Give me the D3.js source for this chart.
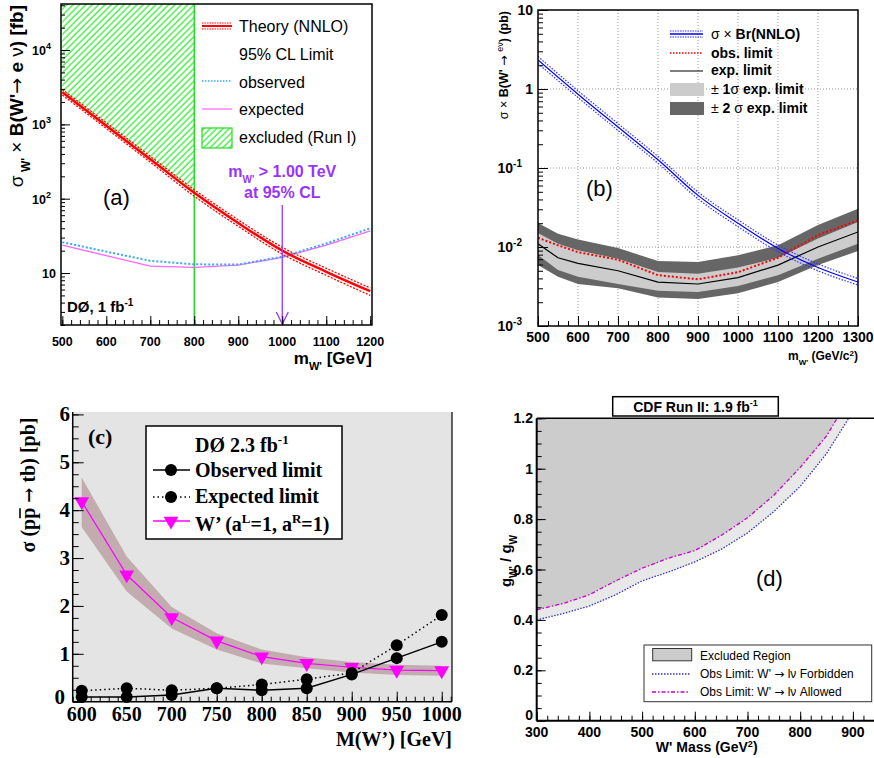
<!DOCTYPE html>
<html>
<head>
<meta charset="utf-8">
<script src="https://cdn.jsdelivr.net/npm/d3@7"></script>
<style>
body { margin: 0; background: #fff; }
svg { display: block; }
.sans { font-family: "Liberation Sans", Arial, sans-serif; }
.serif { font-family: "Liberation Serif", "Times New Roman", serif; }
.ax .domain { display: none; }
.arr { font-family: "DejaVu Sans", sans-serif; font-weight: normal; }
.arrs { font-family: "DejaVu Serif", serif; }
</style>
</head>
<body>
<script>
// ---- (a) D0 W' -> e nu, 1 fb-1 ----
var massA = [500, 600, 700, 800, 900, 1000, 1100, 1200];
var theoryA = [2700, 960, 340, 120, 47, 20, 10.4, 5.7];
var theoryHiA = [2950, 1050, 372, 132, 52, 22.2, 11.6, 6.3];
var theoryLoA = [2480, 880, 310, 108, 42.5, 18, 9.3, 5.0];
var obsA = [26, 19.4, 14.6, 13.1, 13.0, 16.6, 25, 40];
var expA = [23.8, 17.1, 12.4, 11.9, 12.8, 16.3, 23.8, 37];
var runIMaxA = 800;
var limitA = 1000;

// ---- (b) CDF W' -> e nu ----
var massTheoryB = [500, 600, 700, 800, 900, 1000, 1100, 1200, 1300];
var theoryB = [2.33, 0.86, 0.33, 0.127, 0.045, 0.020, 0.0096, 0.0055, 0.0036];
var theoryHiB = [2.58, 0.95, 0.365, 0.140, 0.0497, 0.0221, 0.0106, 0.0061, 0.0040];
var theoryLoB = [2.10, 0.78, 0.298, 0.115, 0.0407, 0.0181, 0.0087, 0.0050, 0.0033];
var massB = [500, 550, 600, 700, 800, 900, 1000, 1100, 1200, 1300];
var twoUpB = [0.0201, 0.0147, 0.0124, 0.0097, 0.00665, 0.00646, 0.00785, 0.0105, 0.019, 0.0306];
var oneUpB = [0.0150, 0.0110, 0.0091, 0.0071, 0.00483, 0.00459, 0.0055, 0.0073, 0.0128, 0.0207];
var expB = [0.0110, 0.0073, 0.0062, 0.0050, 0.0036, 0.0034, 0.0041, 0.0059, 0.0100, 0.0155];
var oneDnB = [0.0079, 0.0051, 0.0042, 0.0034, 0.0028, 0.0027, 0.0032, 0.0044, 0.0071, 0.0110];
var twoDnB = [0.0059, 0.0042, 0.0034, 0.0030, 0.0023, 0.0022, 0.0026, 0.0036, 0.0059, 0.0089];
var obsB = [0.0131, 0.0105, 0.0086, 0.0069, 0.0044, 0.0039, 0.0048, 0.0073, 0.0141, 0.0218];

// ---- (c) D0 W' -> tb, 2.3 fb-1 ----
var massC = [600, 650, 700, 750, 800, 850, 900, 950, 1000];
var obsC = [0.10, 0.10, 0.14, 0.28, 0.24, 0.28, 0.57, 0.91, 1.25];
var expC = [0.23, 0.28, 0.24, 0.28, 0.36, 0.47, 0.60, 1.18, 1.81];
var wpC = [4.18, 2.65, 1.76, 1.27, 0.94, 0.80, 0.72, 0.66, 0.65];
var wpHiC = [4.68, 3.03, 1.98, 1.43, 1.09, 0.93, 0.83, 0.77, 0.75];
var wpLoC = [3.65, 2.30, 1.53, 1.09, 0.80, 0.70, 0.61, 0.56, 0.54];

// ---- (d) CDF coupling limit, 1.9 fb-1 ----
var massForbD = [300, 350, 400, 450, 500, 550, 600, 650, 700, 750, 800, 850, 892];
var forbD = [0.40, 0.425, 0.455, 0.50, 0.555, 0.59, 0.63, 0.68, 0.745, 0.83, 0.93, 1.06, 1.2];
var massAllowD = [300, 350, 400, 450, 500, 550, 600, 650, 700, 750, 800, 850, 870];
var allowD = [0.44, 0.465, 0.50, 0.555, 0.605, 0.645, 0.675, 0.735, 0.805, 0.895, 1.005, 1.13, 1.2];

var svg = d3.select("body").append("svg").attr("width", 874).attr("height", 758);
var defs = svg.append("defs");

function zip(xs, ys) { return xs.map(function(x, i) { return [x, ys[i]]; }); }
function addClip(id, x0, y0, x1, y1) {
    defs.append("clipPath").attr("id", id).append("rect")
        .attr("x", x0).attr("y", y0).attr("width", x1 - x0).attr("height", y1 - y0);
}
// inward ticks via d3 axes, labels drawn separately
function ticks(g, orient, scale, pos, vals, len) {
    var a = orient == "left" ? d3.axisLeft(scale) : d3.axisBottom(scale);
    a.tickValues(vals).tickSize(-len).tickFormat("");
    g.append("g").attr("class", "ax")
     .attr("transform", orient == "left" ? "translate(" + pos + ",0)" : "translate(0," + pos + ")")
     .call(a);
}
function range(a, b, s) { return d3.range(a, b + s / 2, s); }

// hatch for Run I exclusion
var pat = defs.append("pattern").attr("id", "hatch").attr("patternUnits", "userSpaceOnUse")
    .attr("width", 4.5).attr("height", 4.5).attr("patternTransform", "rotate(45)");
pat.append("rect").attr("width", 4.5).attr("height", 4.5).attr("fill", "#fff");
pat.append("line").attr("x1", 1).attr("y1", 0).attr("x2", 1).attr("y2", 4.5)
   .attr("stroke", "#22ee22").attr("stroke-width", 1.2);

/* ================= panel (a) ================= */
var ga = svg.append("g").attr("class", "sans");
var xa = d3.scaleLinear().domain([497, 1204]).range([61, 372]);
var ya = d3.scaleLog().domain([2, 41600]).range([325, 4]);
addClip("clipA", 61, 4, 372, 325);
var pa = ga.append("g").attr("clip-path", "url(#clipA)");
var lineA = d3.line().x(function(d) { return xa(d[0]); }).y(function(d) { return ya(d[1]); });
var smoothA = d3.line().x(function(d) { return xa(d[0]); }).y(function(d) { return ya(d[1]); }).curve(d3.curveMonotoneX);

pa.append("path")
  .datum(zip(massA, theoryA).filter(function(d) { return d[0] <= runIMaxA; }))
  .attr("d", d3.area().x(function(d) { return xa(d[0]); }).y0(4).y1(function(d) { return ya(d[1]); }).curve(d3.curveMonotoneX))
  .attr("fill", "url(#hatch)");
pa.append("line").attr("x1", xa(runIMaxA)).attr("x2", xa(runIMaxA)).attr("y1", 4).attr("y2", 325)
  .attr("stroke", "#22dd22").attr("stroke-width", 1.5);

pa.append("path").datum(zip(massA, expA)).attr("d", lineA)
  .attr("fill", "none").attr("stroke", "#ff66ff").attr("stroke-width", 1.3);
pa.append("path").datum(zip(massA, obsA)).attr("d", lineA)
  .attr("fill", "none").attr("stroke", "#33aaff").attr("stroke-width", 2).attr("stroke-dasharray", "2,2");
[theoryHiA, theoryLoA].forEach(function(s) {
    pa.append("path").datum(zip(massA, s)).attr("d", smoothA)
      .attr("fill", "none").attr("stroke", "#ff0000").attr("stroke-width", 1.3).attr("stroke-dasharray", "2,1.5");
});
pa.append("path").datum(zip(massA, theoryA)).attr("d", smoothA)
  .attr("fill", "none").attr("stroke", "#ff0000").attr("stroke-width", 2.5);

// limit arrow
var purple = "#9933ff";
ga.append("line").attr("x1", xa(limitA)).attr("x2", xa(limitA)).attr("y1", 205).attr("y2", 324)
  .attr("stroke", purple).attr("stroke-width", 1.3);
ga.append("path").attr("d", "M" + (xa(limitA) - 6) + ",312L" + xa(limitA) + ",324L" + (xa(limitA) + 6) + ",312")
  .attr("fill", "none").attr("stroke", purple).attr("stroke-width", 1.3);
var ta = ga.append("text").attr("x", xa(limitA)).attr("y", 177).attr("text-anchor", "middle")
  .attr("font-weight", "bold").attr("font-size", 16).attr("fill", purple);
ta.append("tspan").text("m");
ta.append("tspan").attr("baseline-shift", "sub").attr("font-size", 10).text("W'");
ta.append("tspan").text(" > 1.00 TeV");
ga.append("text").attr("x", xa(limitA)).attr("y", 198).attr("text-anchor", "middle")
  .attr("font-weight", "bold").attr("font-size", 16).attr("fill", purple).text("at 95% CL");

ga.append("rect").attr("x", 61).attr("y", 4).attr("width", 311).attr("height", 321)
  .attr("fill", "none").attr("stroke", "#000").attr("stroke-width", 1.5);
ticks(ga, "left", ya, 61, ya.ticks().filter(function(v) { return v >= 2; }), 4);
ticks(ga, "left", ya, 61, [10, 100, 1000, 10000], 9);
ticks(ga, "bottom", xa, 325, range(500, 1200, 20), 5);
ticks(ga, "bottom", xa, 325, range(500, 1200, 100), 9);

ga.selectAll("text.xla").data(range(500, 1200, 100)).enter().append("text")
  .attr("x", function(d) { return xa(d); }).attr("y", 346).attr("text-anchor", "middle")
  .attr("font-size", 12.5).attr("font-weight", "bold").text(function(d) { return d; });
[[10, "10", ""], [100, "10", "2"], [1000, "10", "3"], [10000, "10", "4"]].forEach(function(d) {
    var t = ga.append("text").attr("x", d[2] ? 51 : 56).attr("y", ya(d[0]) + 5).attr("text-anchor", "end")
      .attr("font-size", 12.5).attr("font-weight", "bold");
    t.append("tspan").text(d[1]);
    if (d[2]) t.append("tspan").attr("dy", -6).attr("font-size", 9).text(d[2]);
});

var xta = ga.append("text").attr("x", 372).attr("y", 364).attr("text-anchor", "end")
  .attr("font-size", 17).attr("font-weight", "bold");
xta.append("tspan").text("m");
xta.append("tspan").attr("baseline-shift", "sub").attr("font-size", 11).text("W'");
xta.append("tspan").text("  [GeV]");

var yta = ga.append("text").attr("transform", "translate(23,5) rotate(-90)").attr("text-anchor", "end")
  .attr("font-size", 19).attr("font-weight", "bold");
yta.append("tspan").attr("font-weight", "normal").text("σ");
yta.append("tspan").attr("baseline-shift", "sub").attr("font-size", 12).text(" W'");
yta.append("tspan").attr("font-weight", "normal").text(" × ");
yta.append("tspan").text("B(W'");
yta.append("tspan").attr("class", "arr").text("→");
yta.append("tspan").text(" e ");
yta.append("tspan").attr("font-weight", "normal").text("ν");
yta.append("tspan").text(")  [fb]");

ga.append("text").attr("x", 103).attr("y", 205).attr("font-size", 22).text("(a)");
var dza = ga.append("text").attr("x", 67).attr("y", 312).attr("font-size", 15).attr("font-weight", "bold");
dza.append("tspan").text("DØ, 1 fb");
dza.append("tspan").attr("dy", -6).attr("font-size", 10).text("-1");

// legend (a)
ga.append("line").attr("x1", 202).attr("x2", 232).attr("y1", 26).attr("y2", 26).attr("stroke", "#f00").attr("stroke-width", 2);
[23, 29].forEach(function(y) {
    ga.append("line").attr("x1", 202).attr("x2", 232).attr("y1", y).attr("y2", y)
      .attr("stroke", "#f00").attr("stroke-width", 1).attr("stroke-dasharray", "1.5,1");
});
ga.append("line").attr("x1", 202).attr("x2", 232).attr("y1", 81).attr("y2", 81)
  .attr("stroke", "#33aaff").attr("stroke-width", 1.5).attr("stroke-dasharray", "1.5,1.5");
ga.append("line").attr("x1", 202).attr("x2", 232).attr("y1", 109).attr("y2", 109)
  .attr("stroke", "#ff66ff").attr("stroke-width", 1.2);
ga.append("rect").attr("x", 202).attr("y", 128).attr("width", 30).attr("height", 20)
  .attr("fill", "url(#hatch)").attr("stroke", "#22dd22").attr("stroke-width", 1.2);
[["Theory (NNLO)", 32], ["95% CL Limit", 60], ["observed", 88], ["expected", 115], ["excluded (Run I)", 143]].forEach(function(d) {
    ga.append("text").attr("x", 239).attr("y", d[1]).attr("font-size", 16).text(d[0]);
});

/* ================= panel (b) ================= */
var gb = svg.append("g").attr("class", "sans");
var xb = d3.scaleLinear().domain([500, 1300]).range([538, 858]);
var yb = d3.scaleLog().domain([1e-3, 10]).range([326, 10]);
addClip("clipB", 538, 10, 858, 326);
var pb = gb.append("g").attr("clip-path", "url(#clipB)");

range(600, 1200, 100).forEach(function(v) {
    pb.append("line").attr("x1", xb(v)).attr("x2", xb(v)).attr("y1", 10).attr("y2", 326)
      .attr("stroke", "#999").attr("stroke-dasharray", "1,2");
});
[0.01, 0.1, 1].forEach(function(v) {
    pb.append("line").attr("x1", 538).attr("x2", 858).attr("y1", yb(v)).attr("y2", yb(v))
      .attr("stroke", "#999").attr("stroke-dasharray", "1,2");
});

function bandB(lo, hi, col) {
    pb.append("path").datum(massB.map(function(m, i) { return [m, lo[i], hi[i]]; }))
      .attr("d", d3.area().x(function(d) { return xb(d[0]); })
            .y0(function(d) { return yb(d[1]); }).y1(function(d) { return yb(d[2]); }))
      .attr("fill", col);
}
bandB(twoDnB, twoUpB, "#666666");
bandB(oneDnB, oneUpB, "#cccccc");
var lineB = d3.line().x(function(d) { return xb(d[0]); }).y(function(d) { return yb(d[1]); });
var smoothB = d3.line().x(function(d) { return xb(d[0]); }).y(function(d) { return yb(d[1]); }).curve(d3.curveMonotoneX);
pb.append("path").datum(zip(massB, expB)).attr("d", lineB).attr("fill", "none").attr("stroke", "#000").attr("stroke-width", 1.2);
pb.append("path").datum(zip(massB, obsB)).attr("d", lineB).attr("fill", "none")
  .attr("stroke", "#ff0000").attr("stroke-width", 2).attr("stroke-dasharray", "2,2");
[theoryHiB, theoryLoB].forEach(function(s) {
    pb.append("path").datum(zip(massTheoryB, s)).attr("d", smoothB).attr("fill", "none")
      .attr("stroke", "#3333ff").attr("stroke-width", 1.2).attr("stroke-dasharray", "1.5,1.5");
});
pb.append("path").datum(zip(massTheoryB, theoryB)).attr("d", smoothB).attr("fill", "none")
  .attr("stroke", "#0000ff").attr("stroke-width", 1.2);

gb.append("rect").attr("x", 538).attr("y", 10).attr("width", 320).attr("height", 316)
  .attr("fill", "none").attr("stroke", "#000").attr("stroke-width", 1.5);
ticks(gb, "left", yb, 538, yb.ticks(), 5);
ticks(gb, "left", yb, 538, [0.001, 0.01, 0.1, 1, 10], 10);
ticks(gb, "bottom", xb, 326, range(500, 1300, 25), 5);
ticks(gb, "bottom", xb, 326, range(500, 1300, 100), 10);

gb.selectAll("text.xlb").data(range(500, 1300, 100)).enter().append("text")
  .attr("x", function(d) { return xb(d); }).attr("y", 342).attr("text-anchor", "middle")
  .attr("font-size", 14).attr("font-weight", "bold").text(function(d) { return d; });
[[10, "10", ""], [1, "1", ""], [0.1, "10", "-1"], [0.01, "10", "-2"], [0.001, "10", "-3"]].forEach(function(d) {
    var t = gb.append("text").attr("x", d[2] ? 522 : 533).attr("y", yb(d[0]) + 5).attr("text-anchor", "end")
      .attr("font-size", 14).attr("font-weight", "bold");
    t.append("tspan").text(d[1]);
    if (d[2]) t.append("tspan").attr("dy", -6).attr("font-size", 10).text(d[2]);
});

var xtb = gb.append("text").attr("x", 858).attr("y", 360).attr("text-anchor", "end")
  .attr("font-size", 12).attr("font-weight", "bold");
xtb.append("tspan").text("m");
xtb.append("tspan").attr("baseline-shift", "sub").attr("font-size", 8).text("W'");
xtb.append("tspan").text(" (GeV/c");
xtb.append("tspan").attr("baseline-shift", "super").attr("font-size", 8).text("2");
xtb.append("tspan").text(")");

var ytb = gb.append("text").attr("transform", "translate(508,11) rotate(-90)").attr("text-anchor", "end")
  .attr("font-size", 12.5).attr("font-weight", "bold");
ytb.append("tspan").attr("font-weight", "normal").text("σ × ");
ytb.append("tspan").text("B(W' ");
ytb.append("tspan").attr("class", "arr").text("→");
ytb.append("tspan").text(" ");
ytb.append("tspan").attr("baseline-shift", "super").attr("font-size", 9).attr("font-weight", "normal").text("eν");
ytb.append("tspan").text(") (pb)");

gb.append("text").attr("x", 586).attr("y", 196).attr("font-size", 22).text("(b)");

// legend (b)
gb.append("line").attr("x1", 670).attr("x2", 703).attr("y1", 34).attr("y2", 34).attr("stroke", "#00f").attr("stroke-width", 1.3);
[31, 37].forEach(function(y) {
    gb.append("line").attr("x1", 670).attr("x2", 703).attr("y1", y).attr("y2", y)
      .attr("stroke", "#3333ff").attr("stroke-width", 1).attr("stroke-dasharray", "1.5,1");
});
gb.append("line").attr("x1", 670).attr("x2", 703).attr("y1", 53).attr("y2", 53)
  .attr("stroke", "#f00").attr("stroke-width", 1.5).attr("stroke-dasharray", "1.5,1.5");
gb.append("line").attr("x1", 670).attr("x2", 703).attr("y1", 71).attr("y2", 71).attr("stroke", "#000").attr("stroke-width", 1.2);
gb.append("rect").attr("x", 670).attr("y", 83).attr("width", 34).attr("height", 13).attr("fill", "#cccccc");
gb.append("rect").attr("x", 670).attr("y", 102).attr("width", 34).attr("height", 13).attr("fill", "#666666");
var lb1 = gb.append("text").attr("x", 711).attr("y", 39).attr("font-size", 14).attr("font-weight", "bold");
lb1.append("tspan").attr("font-weight", "normal").text("σ × ");
lb1.append("tspan").text("Br(NNLO)");
gb.append("text").attr("x", 711).attr("y", 58).attr("font-size", 14).attr("font-weight", "bold").text("obs. limit");
gb.append("text").attr("x", 711).attr("y", 75).attr("font-size", 14).attr("font-weight", "bold").text("exp. limit");
var lb4 = gb.append("text").attr("x", 711).attr("y", 94).attr("font-size", 14).attr("font-weight", "bold");
lb4.append("tspan").attr("font-weight", "normal").text("± ");
lb4.append("tspan").text("1");
lb4.append("tspan").attr("font-weight", "normal").text("σ");
lb4.append("tspan").text(" exp. limit");
var lb5 = gb.append("text").attr("x", 711).attr("y", 113).attr("font-size", 14).attr("font-weight", "bold");
lb5.append("tspan").attr("font-weight", "normal").text("± ");
lb5.append("tspan").text("2 ");
lb5.append("tspan").attr("font-weight", "normal").text("σ");
lb5.append("tspan").text(" exp. limit");

/* ================= panel (c) ================= */
var gc = svg.append("g").attr("class", "serif");
var xc = d3.scaleLinear().domain([590, 1011.4]).range([72.7, 452]);
var yc = d3.scaleLinear().domain([0, 6.05]).range([701.7, 412]);
gc.append("rect").attr("x", 72.7).attr("y", 412).attr("width", 452 - 72.7).attr("height", 701.7 - 412).attr("fill", "#e4e4e4");
addClip("clipC", 72.7, 412, 452, 701.7);
var pc = gc.append("g").attr("clip-path", "url(#clipC)");
pc.append("path").datum(massC.map(function(m, i) { return [m, wpLoC[i], wpHiC[i]]; }))
  .attr("d", d3.area().x(function(d) { return xc(d[0]); }).y0(function(d) { return yc(d[1]); }).y1(function(d) { return yc(d[2]); }))
  .attr("fill", "#c3acb0");
var lineC = d3.line().x(function(d) { return xc(d[0]); }).y(function(d) { return yc(d[1]); });
pc.append("path").datum(zip(massC, wpC)).attr("d", lineC).attr("fill", "none").attr("stroke", "#ff00ff").attr("stroke-width", 1.2);
pc.append("path").datum(zip(massC, expC)).attr("d", lineC).attr("fill", "none").attr("stroke", "#000")
  .attr("stroke-width", 1.5).attr("stroke-dasharray", "1.5,3");
pc.append("path").datum(zip(massC, obsC)).attr("d", lineC).attr("fill", "none").attr("stroke", "#000").attr("stroke-width", 1.5);
var tri = d3.symbol().type(d3.symbolTriangle).size(95);
gc.selectAll("path.tri").data(zip(massC, wpC)).enter().append("path")
  .attr("d", tri).attr("fill", "#ff00ff")
  .attr("transform", function(d) { return "translate(" + xc(d[0]) + "," + yc(d[1]) + ") rotate(180)"; });
gc.selectAll("circle.exp").data(zip(massC, expC)).enter().append("circle")
  .attr("cx", function(d) { return xc(d[0]); }).attr("cy", function(d) { return yc(d[1]); }).attr("r", 6).attr("fill", "#000");
gc.selectAll("circle.obs").data(zip(massC, obsC)).enter().append("circle")
  .attr("cx", function(d) { return xc(d[0]); }).attr("cy", function(d) { return yc(d[1]); }).attr("r", 6).attr("fill", "#000");

gc.append("line").attr("x1", 452).attr("x2", 452).attr("y1", 412).attr("y2", 701.7).attr("stroke", "#000").attr("stroke-width", 1.2);
gc.append("line").attr("x1", 72.7).attr("x2", 72.7).attr("y1", 412).attr("y2", 701.7).attr("stroke", "#000").attr("stroke-width", 1.5);
gc.append("line").attr("x1", 72.7).attr("x2", 452).attr("y1", 701.7).attr("y2", 701.7).attr("stroke", "#000").attr("stroke-width", 1.5);
ticks(gc, "left", yc, 72.7, range(0, 6, 0.25), 6);
ticks(gc, "left", yc, 72.7, range(0, 6, 1), 11);
ticks(gc, "bottom", xc, 701.7, range(590, 1010, 10), 5);
ticks(gc, "bottom", xc, 701.7, range(600, 1000, 50), 10);

gc.selectAll("text.xlc").data(range(600, 1000, 50)).enter().append("text")
  .attr("x", function(d) { return xc(d); }).attr("y", 721).attr("text-anchor", "middle")
  .attr("font-size", 20).attr("font-weight", "bold").text(function(d) { return d; });
gc.selectAll("text.ylc").data(range(0, 6, 1)).enter().append("text")
  .attr("x", function(d) { return d == 0 ? 65 : 70; })
  .attr("y", function(d) { return d == 0 ? yc(d) + 2 : yc(d) + 7; }).attr("text-anchor", "end")
  .attr("font-size", 21).attr("font-weight", "bold").text(function(d) { return d; });

gc.append("text").attr("x", 452).attr("y", 746).attr("text-anchor", "end")
  .attr("font-size", 20).attr("font-weight", "bold").text("M(W’) [GeV]");
// y title, with the anti-proton bar drawn over the second p
var ytcG = gc.append("g").attr("transform", "translate(35,485) rotate(-90)");
var ytc = ytcG.append("text").attr("text-anchor", "middle").attr("font-size", 20).attr("font-weight", "bold");
ytc.append("tspan").text("σ (pp ");
ytc.append("tspan").attr("class", "arrs").attr("font-size", 18).text("→");
ytc.append("tspan").text(" tb) [pb]");
var pbarS = ytc.node().getStartPositionOfChar(4), pbarE = ytc.node().getEndPositionOfChar(4);
ytcG.append("line").attr("x1", pbarS.x + 0.5).attr("x2", pbarE.x - 0.5).attr("y1", -15).attr("y2", -15)
  .attr("stroke", "#000").attr("stroke-width", 1.6);

gc.append("text").attr("x", 88).attr("y", 444).attr("font-size", 22).attr("font-weight", "bold").text("(c)");

// legend (c)
gc.append("rect").attr("x", 146).attr("y", 426).attr("width", 196).attr("height", 113)
  .attr("fill", "#fff").attr("stroke", "#000").attr("stroke-width", 1.5);
var lc1 = gc.append("text").attr("x", 195).attr("y", 452).attr("font-size", 20).attr("font-weight", "bold");
lc1.append("tspan").text("DØ 2.3 fb");
lc1.append("tspan").attr("dy", -8).attr("font-size", 13).text("-1");
gc.append("line").attr("x1", 153).attr("x2", 190).attr("y1", 470).attr("y2", 470).attr("stroke", "#000").attr("stroke-width", 1.5);
gc.append("circle").attr("cx", 171).attr("cy", 470).attr("r", 6).attr("fill", "#000");
gc.append("text").attr("x", 195).attr("y", 477).attr("font-size", 20).attr("font-weight", "bold").text("Observed limit");
gc.append("line").attr("x1", 153).attr("x2", 190).attr("y1", 497).attr("y2", 497).attr("stroke", "#000")
  .attr("stroke-width", 1.5).attr("stroke-dasharray", "1.5,3");
gc.append("circle").attr("cx", 171).attr("cy", 497).attr("r", 6).attr("fill", "#000");
gc.append("text").attr("x", 195).attr("y", 503).attr("font-size", 20).attr("font-weight", "bold").text("Expected limit");
gc.append("line").attr("x1", 153).attr("x2", 190).attr("y1", 521).attr("y2", 521).attr("stroke", "#ff00ff").attr("stroke-width", 1.5);
gc.append("path").attr("d", tri).attr("fill", "#ff00ff").attr("transform", "translate(171,521) rotate(180)");
var lc4 = gc.append("text").attr("x", 195).attr("y", 531).attr("font-size", 20).attr("font-weight", "bold");
lc4.append("tspan").text("W’ (a");
lc4.append("tspan").attr("dy", -8).attr("font-size", 13).text("L");
lc4.append("tspan").attr("dy", 8).text("=1, a");
lc4.append("tspan").attr("dy", -8).attr("font-size", 13).text("R");
lc4.append("tspan").attr("dy", 8).text("=1)");

/* ================= panel (d) ================= */
var gd = svg.append("g").attr("class", "sans");
var xd = d3.scaleLinear().domain([300, 950]).range([536.7, 536.7 + 650 * 0.527]);
var yd = d3.scaleLinear().domain([0, 1.2]).range([720.7, 418.3]);
addClip("clipD", 536.7, 418.3, 874, 720.7);
var pd = gd.append("g").attr("clip-path", "url(#clipD)");
var areaTop = d3.area().x(function(d) { return xd(d[0]); }).y0(yd(1.2)).y1(function(d) { return yd(d[1]); });
pd.append("path").datum(zip(massForbD, forbD)).attr("d", areaTop).attr("fill", "#e8e8e8");
pd.append("path").datum(zip(massAllowD, allowD)).attr("d", areaTop).attr("fill", "#cccccc");
var lineD = d3.line().x(function(d) { return xd(d[0]); }).y(function(d) { return yd(d[1]); });
pd.append("path").datum(zip(massForbD, forbD)).attr("d", lineD).attr("fill", "none")
  .attr("stroke", "#3333cc").attr("stroke-width", 1.3).attr("stroke-dasharray", "1.5,1.5");
pd.append("path").datum(zip(massAllowD, allowD)).attr("d", lineD).attr("fill", "none")
  .attr("stroke", "#cc00cc").attr("stroke-width", 1.3).attr("stroke-dasharray", "4,2,1.5,2");

gd.append("line").attr("x1", 536.7).attr("x2", 874).attr("y1", 418.3).attr("y2", 418.3).attr("stroke", "#000").attr("stroke-width", 1.5);
gd.append("line").attr("x1", 536.7).attr("x2", 536.7).attr("y1", 418.3).attr("y2", 720.7).attr("stroke", "#000").attr("stroke-width", 2);
gd.append("line").attr("x1", 536.7).attr("x2", 874).attr("y1", 720.7).attr("y2", 720.7).attr("stroke", "#000").attr("stroke-width", 2);
ticks(gd, "left", yd, 536.7, range(0, 1.2, 0.05), 5);
ticks(gd, "left", yd, 536.7, range(0, 1.2, 0.2), 9);
ticks(gd, "bottom", xd, 720.7, range(300, 940, 20), 5);
ticks(gd, "bottom", xd, 720.7, range(300, 900, 100), 9);

gd.selectAll("text.xld").data(range(300, 900, 100)).enter().append("text")
  .attr("x", function(d) { return xd(d); }).attr("y", 737).attr("text-anchor", "middle")
  .attr("font-size", 14).attr("font-weight", "bold").text(function(d) { return d; });
gd.selectAll("text.yld").data(range(0, 1.2, 0.2)).enter().append("text")
  .attr("x", 533).attr("y", function(d) { return d < 0.1 ? yd(d) - 1 : yd(d) + 5; }).attr("text-anchor", "end")
  .attr("font-size", 14).attr("font-weight", "bold").text(function(d) { return d3.format("~g")(+d.toFixed(1)); });

var xtd = gd.append("text").attr("x", 706.7).attr("y", 752).attr("text-anchor", "middle")
  .attr("font-size", 14).attr("font-weight", "bold");
xtd.append("tspan").text("W' Mass (GeV");
xtd.append("tspan").attr("baseline-shift", "super").attr("font-size", 9).text("2");
xtd.append("tspan").text(")");
var ytd = gd.append("text").attr("transform", "translate(511,561) rotate(-90)").attr("text-anchor", "middle")
  .attr("font-size", 15).attr("font-weight", "bold");
ytd.append("tspan").text("g");
ytd.append("tspan").attr("baseline-shift", "sub").attr("font-size", 10).text("W'");
ytd.append("tspan").text(" / g");
ytd.append("tspan").attr("baseline-shift", "sub").attr("font-size", 10).text("W");

gd.append("rect").attr("x", 612.7).attr("y", 396.7).attr("width", 165.6).attr("height", 19.3)
  .attr("fill", "#fff").attr("stroke", "#000").attr("stroke-width", 1.5);
var ttd = gd.append("text").attr("x", 695.5).attr("y", 411.5).attr("text-anchor", "middle")
  .attr("font-size", 14).attr("font-weight", "bold");
ttd.append("tspan").text("CDF Run II: 1.9 fb");
ttd.append("tspan").attr("dy", -6).attr("font-size", 9).text("-1");

gd.append("text").attr("x", 756).attr("y", 586).attr("font-size", 22).text("(d)");

// legend (d)
gd.append("rect").attr("x", 644).attr("y", 645).attr("width", 227.7).attr("height", 56.7)
  .attr("fill", "#fff").attr("stroke", "#333").attr("stroke-width", 1);
gd.append("rect").attr("x", 652.7).attr("y", 648.5).attr("width", 39).attr("height", 12.3)
  .attr("fill", "#cccccc").attr("stroke", "#333").attr("stroke-width", 1);
gd.append("line").attr("x1", 652).attr("x2", 690).attr("y1", 674).attr("y2", 674)
  .attr("stroke", "#3333cc").attr("stroke-width", 1.3).attr("stroke-dasharray", "1.5,1.5");
gd.append("line").attr("x1", 652).attr("x2", 690).attr("y1", 692).attr("y2", 692)
  .attr("stroke", "#cc00cc").attr("stroke-width", 1.3).attr("stroke-dasharray", "4,2,1.5,2");
gd.append("text").attr("x", 700).attr("y", 659.5).attr("font-size", 12).text("Excluded Region");
[["Forbidden", 678], ["Allowed", 696]].forEach(function(d) {
    var t = gd.append("text").attr("x", 700).attr("y", d[1]).attr("font-size", 12);
    t.append("tspan").text("Obs Limit: W' ");
    t.append("tspan").attr("class", "arr").text("→");
    t.append("tspan").text(" lν " + d[0]);
});
</script>
</body>
</html>
